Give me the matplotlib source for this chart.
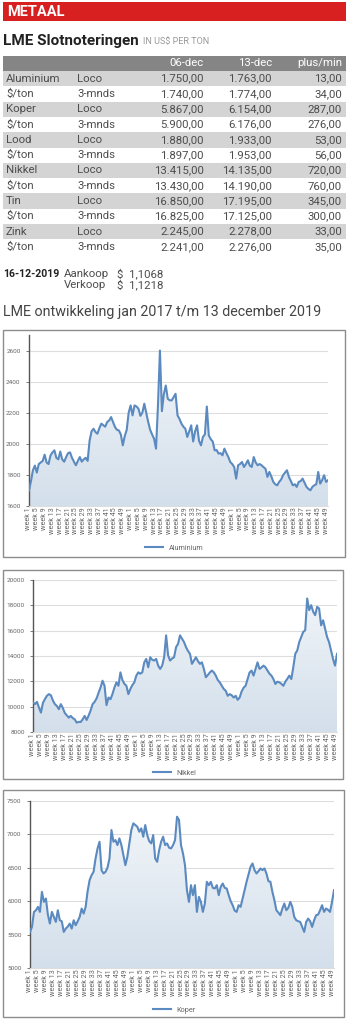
import numpy as np
import matplotlib
matplotlib.use('Agg')
import matplotlib.pyplot as plt
from matplotlib.patches import Rectangle, Polygon
from matplotlib.colors import LinearSegmentedColormap

W, H = 349, 1024
plt.rcParams['font.family'] = ['Roboto', 'DejaVu Sans']

# --- table data ---
metals = ['Aluminium', '$/ton', 'Koper', '$/ton', 'Lood', '$/ton',
          'Nikkel', '$/ton', 'Tin', '$/ton', 'Zink', '$/ton']
terms = ['Loco', '3-mnds'] * 6
price_06dec = ['1.750,00', '1.740,00', '5.867,00', '5.900,00', '1.880,00', '1.897,00',
               '13.415,00', '13.430,00', '16.850,00', '16.825,00', '2.245,00', '2.241,00']
price_13dec = ['1.763,00', '1.774,00', '6.154,00', '6.176,00', '1.933,00', '1.953,00',
               '14.135,00', '14.190,00', '17.195,00', '17.125,00', '2.278,00', '2.276,00']
plus_min = ['13,00', '34,00', '287,00', '276,00', '53,00', '56,00',
            '720,00', '760,00', '345,00', '300,00', '33,00', '35,00']
header = ['06-dec', '13-dec', 'plus/min']

# --- weekly LME prices, jan 2017 - week 50 2019 ---
aluminium = [1700, 1760, 1830, 1860, 1815, 1870, 1880, 1890, 1930, 1880,
             1870, 1925, 1945, 1958, 1910, 1900, 1950, 1900, 1885, 1915,
             1940, 1945, 1910, 1885, 1862, 1890, 1915, 1885, 1900, 1910,
             1890, 2020, 2080, 2097, 2076, 2065, 2100, 2130, 2120, 2110,
             2140, 2150, 2172, 2140, 2108, 2090, 2086, 2060, 1990, 2050,
             2090, 2200, 2247, 2183, 2247, 2240, 2226, 2180, 2200, 2258,
             2200, 2140, 2090, 2060, 2033, 1969, 2250, 2600, 2210, 2320,
             2375, 2290, 2280, 2279, 2300, 2322, 2183, 2160, 2130, 2110,
             2097, 2044, 2080, 2119, 2015, 2080, 2119, 2020, 1990, 2044,
             2060, 2240, 2054, 2030, 2015, 1958, 1960, 1937, 1940, 1926,
             1969, 1940, 1915, 1883, 1870, 1851, 1776, 1862, 1870, 1883,
             1851, 1870, 1894, 1860, 1851, 1915, 1880, 1862, 1870, 1862,
             1850, 1840, 1787, 1819, 1790, 1755, 1740, 1733, 1755, 1770,
             1798, 1815, 1830, 1787, 1760, 1733, 1740, 1723, 1755, 1760,
             1776, 1750, 1723, 1710, 1701, 1723, 1733, 1740, 1819, 1744,
             1766, 1798, 1755, 1766]
nikkel = [10330, 10200, 10380, 9930, 9530, 10300, 10600, 10860, 10990, 10900,
          10500, 10200, 10060, 9800, 10200, 9900, 9500, 9320, 9135, 9270,
          9100, 9000, 8740, 8800, 8790, 9000, 9270, 8950, 9300, 9700,
          10200, 10380, 10650, 11100, 11520, 12050, 11650, 10120, 10720, 10590,
          11000, 11520, 11920, 11650, 12710, 12100, 11800, 11650, 10990, 11400,
          11700, 11920, 12450, 12710, 12600, 12710, 13500, 13770, 13110, 13900,
          13700, 13640, 13770, 13240, 12980, 13240, 13900, 15630, 14040, 13640,
          13800, 13900, 14700, 14960, 15630, 15360, 15100, 14700, 14400, 14170,
          13380, 13640, 13900, 13600, 13380, 13500, 12980, 12320, 12500, 12700,
          12850, 12710, 12450, 12100, 11920, 11650, 11400, 11250, 10860, 10990,
          10900, 10720, 10860, 10540, 10720, 11200, 11500, 11650, 12180, 12700,
          12850, 12450, 12980, 13500, 12980, 13100, 13240, 13110, 12850, 12600,
          12450, 12180, 11790, 11970, 11920, 11800, 11650, 11970, 12200, 12450,
          12180, 13110, 14170, 14440, 15100, 15500, 15900, 16030, 18540, 17620,
          18010, 17500, 17220, 17880, 17750, 16420, 16820, 16160, 15500, 15100,
          14440, 13770, 13240, 14170]
koper = [5540, 5615, 5840, 5865, 5915, 5840, 6140, 5990, 6040, 5800,
         5665, 5840, 5765, 5690, 5865, 5715, 5700, 5540, 5590, 5620,
         5665, 5590, 5715, 5640, 5700, 5765, 5890, 5815, 5915, 6150,
         6315, 6390, 6440, 6640, 6790, 6890, 6465, 6415, 6440, 6500,
         6640, 7065, 6890, 6915, 6840, 6940, 6840, 6690, 6540, 6665,
         6865, 7065, 7165, 7140, 7115, 7040, 7090, 6965, 7140, 6990,
         6900, 6865, 6990, 6640, 6590, 6765, 6890, 6965, 6840, 6865,
         6800, 6790, 6840, 6915, 7265, 7215, 6840, 6715, 6540, 6165,
         5990, 6240, 6090, 6240, 5840, 6065, 5990, 5840, 5965, 6290,
         6240, 6290, 6200, 6190, 6240, 6090, 6215, 6265, 6200, 6190,
         6090, 6000, 5940, 5860, 5840, 5940, 5915, 6040, 6165, 6290,
         6400, 6515, 6565, 6465, 6415, 6450, 6490, 6465, 6490, 6415,
         6300, 6290, 6140, 6015, 5865, 5830, 5790, 5890, 5965, 5865,
         5900, 5990, 5915, 5765, 5715, 5700, 5690, 5615, 5540, 5690,
         5740, 5700, 5615, 5715, 5790, 5800, 5865, 5940, 5840, 5890,
         5870, 5840, 5990, 6165]

weeks_per_year = [52, 52, 50]
tick_weeks = [1, 5, 9, 13, 17, 21, 25, 29, 33, 37, 41, 45, 49]

LINE = '#5b8ac0'
GRAY_TXT = '#4d4d4d'
TS = 8.2  # table font size


def fx(px):
    return px / W


def fy(py):
    return 1 - py / H


def rect(x0, y0, x1, y1, **kw):
    fig.add_artist(Rectangle((fx(x0), fy(y1)), fx(x1) - fx(x0), (y1 - y0) / H,
                             transform=fig.transFigure, **kw))


fig = plt.figure(figsize=(W / 100, H / 100), dpi=100)
fig.patch.set_facecolor('white')

# banner
rect(3, 2, 346, 21, facecolor='#d7201f', edgecolor='none')
fig.text(fx(7), fy(12), 'METAAL', color='white', fontsize=10.5, fontweight='bold',
         va='center', ha='left')

# table title
fig.text(fx(3), fy(41), 'LME Slotnoteringen', color='#222222', fontsize=11,
         fontweight='bold', va='center', ha='left')
fig.text(fx(143), fy(42), 'IN US$ PER TON', color='#999999', fontsize=6.5,
         va='center', ha='left')

# table
row_h = 15.3
top = 55.7
rect(3, top, 346, top + row_h, facecolor='#858585', edgecolor='none')
for txt, xr in zip(header, [204, 272, 342]):
    fig.text(fx(xr), fy(top + row_h / 2), txt, color='white', fontsize=TS,
             va='center', ha='right')
for i in range(len(metals)):
    y0 = top + row_h * (i + 1)
    if i % 2 == 0:
        rect(3, y0, 346, y0 + row_h, facecolor='#d4d4d4', edgecolor='none')
    yc = fy(y0 + row_h / 2)
    fig.text(fx(6), yc, metals[i], color=GRAY_TXT, fontsize=TS, va='center', ha='left')
    fig.text(fx(77), yc, terms[i], color=GRAY_TXT, fontsize=TS, va='center', ha='left')
    fig.text(fx(204), yc, price_06dec[i], color=GRAY_TXT, fontsize=TS, va='center', ha='right')
    fig.text(fx(272), yc, price_13dec[i], color=GRAY_TXT, fontsize=TS, va='center', ha='right')
    fig.text(fx(342), yc, plus_min[i], color=GRAY_TXT, fontsize=TS, va='center', ha='right')

# exchange rate
fig.text(fx(3), fy(274), '16-12-2019', color='#222222', fontsize=7.6, fontweight='bold',
         va='center', ha='left')
fig.text(fx(64), fy(274), 'Aankoop', color=GRAY_TXT, fontsize=TS, va='center', ha='left')
fig.text(fx(117), fy(274), '$  1,1068', color=GRAY_TXT, fontsize=TS, va='center', ha='left')
fig.text(fx(64), fy(285), 'Verkoop', color=GRAY_TXT, fontsize=TS, va='center', ha='left')
fig.text(fx(117), fy(285), '$  1,1218', color=GRAY_TXT, fontsize=TS, va='center', ha='left')

fig.text(fx(3), fy(312), 'LME ontwikkeling jan 2017 t/m 13 december 2019', color='#444444',
         fontsize=10.3, va='center', ha='left')

# x tick positions and labels
tick_pos, tick_lab = [], []
offset = 0
for n in weeks_per_year:
    for w in tick_weeks:
        tick_pos.append(offset + w - 1)
        tick_lab.append('week %d' % w)
    offset += n


def draw_chart(box, area, values, ylo, yhi, step, name, legend_y):
    rect(*box, facecolor='none', edgecolor='#8c8c8c', linewidth=1)
    x0, y0, x1, y1 = area
    ax = fig.add_axes([fx(x0), fy(y1), fx(x1) - fx(x0), (y1 - y0) / H])
    x = np.arange(len(values))
    vals = np.array(values, dtype=float)

    # gradient fill under the line
    verts = np.vstack([[x[0], ylo], np.column_stack([x, vals]), [x[-1], ylo]])
    clip = Polygon(verts, facecolor='none', edgecolor='none')
    ax.add_patch(clip)
    cmap = LinearSegmentedColormap.from_list('fill', ['#d3dfeb', '#f4f7fa'])
    grad = np.linspace(0, 1, 256).reshape(-1, 1)
    im = ax.imshow(grad, aspect='auto', cmap=cmap, origin='lower',
                   extent=[x[0], x[-1], ylo, yhi], zorder=1)
    im.set_clip_path(clip)

    line, = ax.plot(x, vals, color=LINE, linewidth=1.5, zorder=3, label=name)
    ax.set_xlim(0, len(values) - 1)
    ax.set_ylim(ylo, yhi)
    ax.set_yticks(np.arange(ylo, yhi + 1, step))
    ax.yaxis.grid(True, color='#dddddd', linewidth=0.8)
    ax.set_axisbelow(True)
    ax.set_xticks(tick_pos)
    ax.set_xticklabels(tick_lab, rotation=90, fontsize=5.2, color='#666666')
    ax.tick_params(axis='y', labelsize=4.6, labelcolor='#666666', length=2, width=0.6,
                   color='#666666', pad=4)
    ax.tick_params(axis='x', length=0, pad=1)
    for s in ['top', 'right']:
        ax.spines[s].set_visible(False)
    ax.spines['left'].set_color('#555555')
    ax.spines['left'].set_linewidth(1)
    ax.spines['bottom'].set_color('#dddddd')
    ax.spines['bottom'].set_linewidth(0.8)
    ax.set_facecolor('none')
    ax.legend(handles=[line], loc='center', bbox_to_anchor=(0.5, fy(legend_y)),
              bbox_transform=fig.transFigure, frameon=False, fontsize=5.2,
              handlelength=2.5, labelcolor='#666666')


draw_chart((3, 330, 345, 557), (29, 335, 328, 506), aluminium, 1600, 2700, 200,
           'Aluminium', 548)
draw_chart((3, 570, 343, 779), (33, 580, 337, 732), nikkel, 8000, 20000, 2000,
           'Nikkel', 773)
draw_chart((3, 790, 344, 1017), (30, 801, 334, 968), koper, 5000, 7500, 500,
           'Koper', 1010)

fig.savefig('out.png', dpi=100, facecolor='white')
